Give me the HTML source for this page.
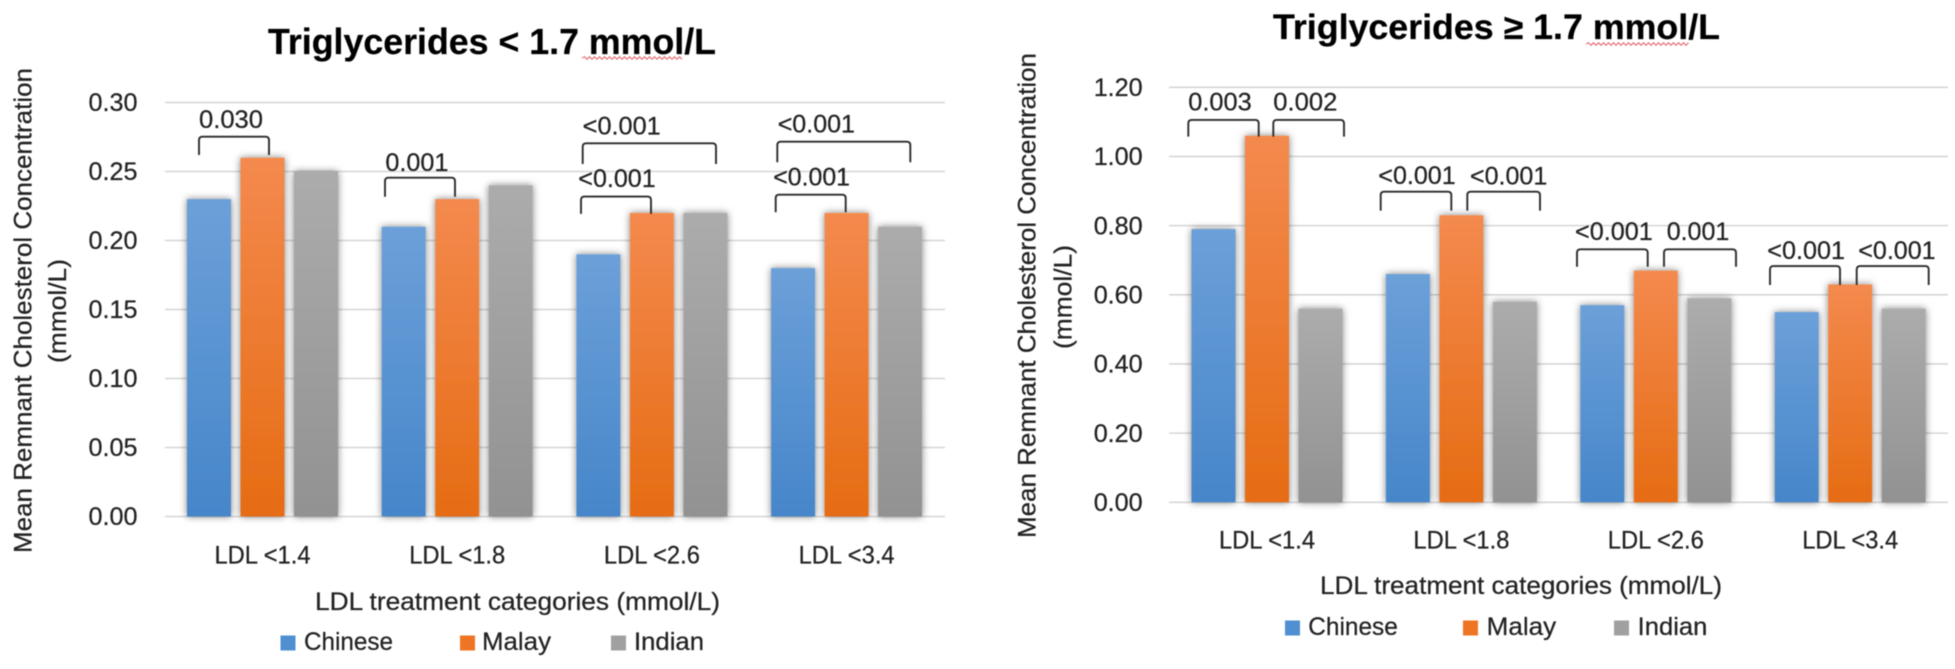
<!DOCTYPE html>
<html lang="en">
<head>
<meta charset="utf-8">
<title>Mean remnant cholesterol by LDL treatment category</title>
<style>
html,body{margin:0;padding:0;background:#fff;width:1955px;height:669px;overflow:hidden}
svg{display:block;filter:blur(0.55px)}
text{font-family:"Liberation Sans",sans-serif;fill:#222;stroke:#222;stroke-width:0.25px}
</style>
</head>
<body>
<svg id="figure" xmlns="http://www.w3.org/2000/svg" width="1955" height="669" viewBox="0 0 1955 669">
  <defs>
    <linearGradient id="grad-chinese" x1="0" y1="0" x2="0" y2="1"><stop offset="0" stop-color="#6ca0d9"/><stop offset="1" stop-color="#4686ca"/></linearGradient>
    <linearGradient id="grad-malay" x1="0" y1="0" x2="0" y2="1"><stop offset="0" stop-color="#f48a4e"/><stop offset="1" stop-color="#e66c13"/></linearGradient>
    <linearGradient id="grad-indian" x1="0" y1="0" x2="0" y2="1"><stop offset="0" stop-color="#acacac"/><stop offset="1" stop-color="#929292"/></linearGradient>
    <filter id="bar-shadow" x="-40%" y="-10%" width="180%" height="115%">
      <feDropShadow dx="0" dy="0" stdDeviation="3.8" flood-color="#000" flood-opacity="0.5"/>
    </filter>
  </defs>
  <rect x="0" y="0" width="1955" height="669" fill="#fff"/>
  <g id="chart-low">
    <text x="268" y="54" font-size="36" font-weight="700" style="fill:#000;stroke:#000" textLength="448" lengthAdjust="spacingAndGlyphs">Triglycerides &lt; 1.7 mmol/L</text>
  </g>
  <g id="chart-high">
    <text x="1273" y="39" font-size="35" font-weight="700" style="fill:#000;stroke:#000" textLength="447" lengthAdjust="spacingAndGlyphs">Triglycerides ≥ 1.7 mmol/L</text>
  </g>
</svg>
<script>
// ---- chart data ----
const categories = ["LDL <1.4", "LDL <1.8", "LDL <2.6", "LDL <3.4"];
const seriesNames = ["Chinese", "Malay", "Indian"];
const lowChinese = [0.23, 0.21, 0.19, 0.18];
const lowMalay = [0.26, 0.23, 0.22, 0.22];
const lowIndian = [0.25, 0.24, 0.22, 0.21];
const highChinese = [0.79, 0.66, 0.57, 0.55];
const highMalay = [1.06, 0.83, 0.67, 0.63];
const highIndian = [0.56, 0.58, 0.59, 0.56];
const lowTicks = [0, 0.05, 0.10, 0.15, 0.20, 0.25, 0.30];
const highTicks = [0, 0.20, 0.40, 0.60, 0.80, 1.00, 1.20];
const yTitleMain = "Mean Remnant Cholesterol Concentration";
const yTitleUnit = "(mmol/L)";
const xTitle = "LDL treatment categories (mmol/L)";

const NS = "http://www.w3.org/2000/svg";
const seriesFills = ["url(#grad-chinese)", "url(#grad-malay)", "url(#grad-indian)"];
const swatchFills = ["#4f8fd2", "#ee7524", "#a0a0a0"];

function make(tag, parent, attrs) {
  const el = document.createElementNS(NS, tag);
  for (const k in attrs) el.setAttribute(k, attrs[k]);
  parent.appendChild(el);
  return el;
}
function label(parent, str, x, y, size, width, anchor) {
  const el = make("text", parent, {
    x: x, y: y, "font-size": size, "text-anchor": anchor || "start",
    textLength: width, lengthAdjust: "spacingAndGlyphs"
  });
  el.textContent = str;
  return el;
}
function squiggle(parent, x0, x1, y) {
  let d = "M" + x0 + " " + y;
  for (let x = x0, up = true; x < x1; x += 2.5, up = !up) {
    d += " L" + (x + 2.5) + " " + (y + (up ? -1.3 : 1.3));
  }
  const el = make("path", parent, { d: d, fill: "none", stroke: "#e4737c", "stroke-width": 1.2 });
  
  
}

function drawChart(cfg) {
  const root = document.getElementById(cfg.id);
  const yZero = cfg.yZero, yTop = cfg.yTop;
  const maxTick = cfg.ticks[cfg.ticks.length - 1];
  const yScale = v => yZero - v * (yZero - yTop) / maxTick;
  const groupCenter = g => cfg.center0 + cfg.period * g;
  const barWidth = 44, barStep = 53.5;
  const barLeft = (g, s) => groupCenter(g) + (s - 1) * barStep - barWidth / 2;

  // gridlines & y tick labels
  cfg.ticks.forEach(function (t) {
    const line = make("line", root, {
      x1: cfg.plotLeft, x2: cfg.plotRight, y1: yScale(t), y2: yScale(t),
      stroke: "#d6d6d6", "stroke-width": 1.6
    });
    
    
    const tick = label(root, t.toFixed(2), cfg.tickRight, yScale(t) + 8.7, 25, 49, "end");
    
    
  });

  // bars
  cfg.series.forEach(function (values, s) {
    values.forEach(function (v, g) {
      const bar = make("rect", root, {
        x: barLeft(g, s), y: yScale(v), width: barWidth, height: yZero - yScale(v),
        fill: seriesFills[s], filter: "url(#bar-shadow)"
      });
      
      
    });
  });

  // category labels
  categories.forEach(function (c, g) {
    const cat = label(root, c, groupCenter(g), cfg.catBase, 25, 96, "middle");
    
    
  });

  // axis titles
  const yMain = label(root, yTitleMain, cfg.yTitleX, cfg.yTitleMid, 25, 485, "middle");
  yMain.setAttribute("transform", "rotate(-90 " + cfg.yTitleX + " " + cfg.yTitleMid + ")");
  
  
  const yUnit = label(root, yTitleUnit, cfg.yUnitX, cfg.yUnitMid, 25, 104, "middle");
  yUnit.setAttribute("transform", "rotate(-90 " + cfg.yUnitX + " " + cfg.yUnitMid + ")");
  
  
  const xT = label(root, xTitle, cfg.xTitleLeft, cfg.xTitleBase, 25, cfg.xTitleWidth);
  
  

  // legend
  seriesNames.forEach(function (n, s) {
    const sw = make("rect", root, {
      x: cfg.legendSwatch[s], y: cfg.legendBase - 14.5, width: 15, height: 15, fill: swatchFills[s]
    });
    
    
    const lt = label(root, n, cfg.legendText[s], cfg.legendBase, 25, cfg.legendWidth[s]);
    
    
  });

  // significance brackets sit just above the Malay bar of their group
  function bracket(g, x0, x1, lift, h, text, dx, dy, w) {
    const c = groupCenter(g);
    const foot = yScale(cfg.series[1][g]) - lift;
    const top = foot - h;
    const r = 3.5, a = c + x0, b = c + x1;
    const path = make("path", root, {
      d: "M" + a + " " + foot + " V" + (top + r) + " Q" + a + " " + top + " " + (a + r) + " " + top +
         " H" + (b - r) + " Q" + b + " " + top + " " + b + " " + (top + r) + " V" + foot,
      fill: "none", stroke: "#2b2b2b", "stroke-width": 1.9
    });
    
    
    const pv = label(root, text, a + dx, top + dy, 25, w);
    
    
  }
  cfg.brackets(bracket);
  squiggle(root, cfg.squiggle[0], cfg.squiggle[1], cfg.squiggle[2]);
}

drawChart({
  id: "chart-low", ticks: lowTicks, series: [lowChinese, lowMalay, lowIndian],
  yZero: 516.5, yTop: 102.5, plotLeft: 165, plotRight: 945,
  center0: 262.5, period: 194.7, tickRight: 137.5, catBase: 563.5,
  yTitleX: 31.5, yTitleMid: 310.5, yUnitX: 66, yUnitMid: 311,
  xTitleLeft: 315, xTitleBase: 610, xTitleWidth: 405,
  legendSwatch: [280.5, 460, 611], legendText: [304, 482, 634], legendWidth: [89, 69, 70], legendBase: 650,
  squiggle: [582, 682, 58],
  brackets: function (b) {
    b(0, -63.5, 6.5, 2.7, 18.3, "0.030", 0, -8.7, 64);
    b(1, -72.2, -2.2, 2.4, 19, "0.001", 0.4, -6.7, 63);
    b(2, -70.9, -0.9, -1, 17.3, "<0.001", -2.7, -9.4, 77.4);
    b(2, -69.2, 64.1, 48.9, 20.7, "<0.001", 0, -9, 78);
    b(3, -70.9, -0.9, 0.6, 17.6, "<0.001", -2.4, -9, 76.7);
    b(3, -69.3, 63.7, 50.6, 20.6, "<0.001", 0.4, -9, 77.3);
  }
});

drawChart({
  id: "chart-high", ticks: highTicks, series: [highChinese, highMalay, highIndian],
  yZero: 502.3, yTop: 87.3, plotLeft: 1169, plotRight: 1948,
  center0: 1267, period: 194.4, tickRight: 1142.7, catBase: 548.3,
  yTitleX: 1035.7, yTitleMid: 295.5, yUnitX: 1071.7, yUnitMid: 297,
  xTitleLeft: 1320, xTitleBase: 594, xTitleWidth: 402,
  legendSwatch: [1285, 1463, 1614], legendText: [1308.3, 1486.7, 1637.7], legendWidth: [89.5, 69.5, 69.6], legendBase: 635,
  squiggle: [1586, 1687, 44],
  brackets: function (b) {
    b(0, -78.7, -8.3, -0.9, 16.7, "0.003", 0, -9.3, 63.4);
    b(0, 6.3, 77, -0.9, 16.7, "0.002", 0, -9.3, 64);
    b(1, -80.7, -10.1, 4.6, 19, "<0.001", -2.4, -7.7, 77.4);
    b(1, 5.9, 78.6, 4.6, 19, "<0.001", 2.7, -7, 77.3);
    b(2, -78.8, -8.1, 3.9, 17.4, "<0.001", -2, -9.3, 77.7);
    b(2, 8.2, 80.2, 3.9, 17.4, "0.001", 2.7, -9.3, 62.6);
    b(3, -80.2, -10.2, -0.6, 19, "<0.001", -2.7, -7, 77.7);
    b(3, 6.5, 78.5, -0.6, 19, "<0.001", 1.6, -7, 77.3);
  }
});
</script>
</body>
</html>
